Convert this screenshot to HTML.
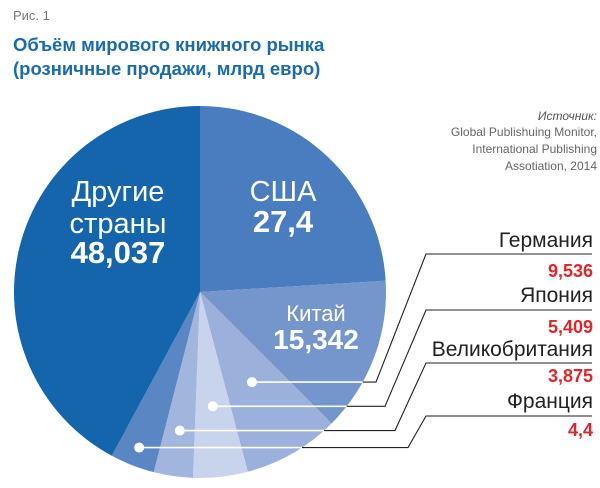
<!DOCTYPE html>
<html><head><meta charset="utf-8"><style>
body{margin:0;background:#fff;width:600px;height:483px;overflow:hidden;font-family:"Liberation Sans","DejaVu Sans",sans-serif}
</style></head><body>
<svg id="chart" width="600" height="483" viewBox="0 0 600 483" font-family="'Liberation Sans','DejaVu Sans',sans-serif">
<text x="13" y="20" font-size="13" fill="#777">Рис. 1</text>
<text x="13" y="51" font-size="18.5" font-weight="bold" fill="#1a6bb0">Объём мирового книжного рынка</text>
<text x="13" y="75" font-size="18.5" font-weight="bold" fill="#1a6bb0">(розничные продажи,  млрд евро)</text>
<g font-size="12" fill="#666" text-anchor="end">
<text x="597" y="120" font-style="italic" fill="#555">Источник:</text>
<text x="597" y="136">Global Publishuing Monitor,</text>
<text x="597" y="153">International Publishing</text>
<text x="597" y="170">Assotiation, 2014</text>
</g>
<g id="slices"></g>
<g id="leaders"></g>
<g id="labels"></g>
</svg>
<script>
const categories = ["США","Китай","Германия","Япония","Великобритания","Франция","Другие страны"];
const values = [27.4, 15.342, 9.536, 5.409, 3.875, 4.4, 48.037];
const valueLabels = ["27,4","15,342","9,536","5,409","3,875","4,4","48,037"];
const colors = ["#4a7dbf","#7496cc","#9bb0da","#c8d3ec","#a1b5dd","#5a86c3","#1565ac"];
const NS="http://www.w3.org/2000/svg";
const cx=200, cy=292, r=186;
const total=values.reduce((a,b)=>a+b,0);
function angleOf(v){return v/total*2*Math.PI;}
function pt(a,rad){return [cx+rad*Math.sin(a), cy-rad*Math.cos(a)];}
const sg=document.getElementById('slices');
let a0=0; const mids=[];
values.forEach((v,i)=>{
  const a1=a0+angleOf(v);
  const p0=pt(a0,r), p1=pt(a1,r);
  const large=(a1-a0)>Math.PI?1:0;
  const p=document.createElementNS(NS,'path');
  p.setAttribute('d',`M${cx},${cy} L${p0[0]},${p0[1]} A${r},${r} 0 ${large} 1 ${p1[0]},${p1[1]} Z`);
  p.setAttribute('fill',colors[i]);
  
  
  sg.appendChild(p);
  mids.push((a0+a1)/2);
  a0=a1;
});
const lg=document.getElementById('labels');
function txt(x,y,s,size,weight,fill,anchor,name){
  const t=document.createElementNS(NS,'text');
  t.setAttribute('x',x);t.setAttribute('y',y);t.setAttribute('font-size',size);
  t.setAttribute('font-weight',weight);t.setAttribute('fill',fill);t.setAttribute('text-anchor',anchor);
  t.textContent=s;
  
  
  lg.appendChild(t);
}
txt(118,201,"Другие","29","normal","#fff","middle","label-other-name");
txt(118,233,"страны","29","normal","#fff","middle","label-other-name-2");
txt(118,263,valueLabels[6],"31","bold","#fff","middle","label-other-value");
txt(283,201,categories[0],"29","normal","#fff","middle","label-usa-name");
txt(283,232,valueLabels[0],"31","bold","#fff","middle","label-usa-value");
txt(316,321,categories[1],"22","normal","#fff","middle","label-china-name");
txt(316,349,valueLabels[1],"28","bold","#fff","middle","label-china-value");
const small=[2,3,4,5];
const dotR=[104,115,140,167];
const cornerXs=[376,385,395,408];
const lineY=[254,310,363,416];
const nameY=[247,302,356,408];
const valY=[277,333,382,436];
const lgd=document.getElementById('leaders');
small.forEach((i,k)=>{
  const d=pt(mids[i],dotR[k]);
  const hy=d[1];
  const ex=cx+Math.sqrt(Math.max(0,r*r-(hy-cy)*(hy-cy)));
  const cornerX=cornerXs[k];
  const w=document.createElementNS(NS,'line');
  w.setAttribute('x1',d[0]);w.setAttribute('y1',hy);w.setAttribute('x2',ex);w.setAttribute('y2',hy);
  w.setAttribute('stroke','#fff');w.setAttribute('stroke-width','1.6');
  
  
  lgd.appendChild(w);
  const b=document.createElementNS(NS,'polyline');
  b.setAttribute('points',`${ex},${hy} ${cornerX},${hy} ${426},${lineY[k]} ${592},${lineY[k]}`);
  b.setAttribute('fill','none');b.setAttribute('stroke','#222');b.setAttribute('stroke-width','1.1');
  
  
  lgd.appendChild(b);
  const c=document.createElementNS(NS,'circle');
  c.setAttribute('cx',d[0]);c.setAttribute('cy',hy);c.setAttribute('r','5');c.setAttribute('fill','#fff');
  
  
  lgd.appendChild(c);
  txt(593,nameY[k],categories[i],"21","normal","#222","end","legend-name-"+i);
  txt(593,valY[k],valueLabels[i],"18","bold","#e0262b","end","legend-value-"+i);
});
</script>
</body></html>
